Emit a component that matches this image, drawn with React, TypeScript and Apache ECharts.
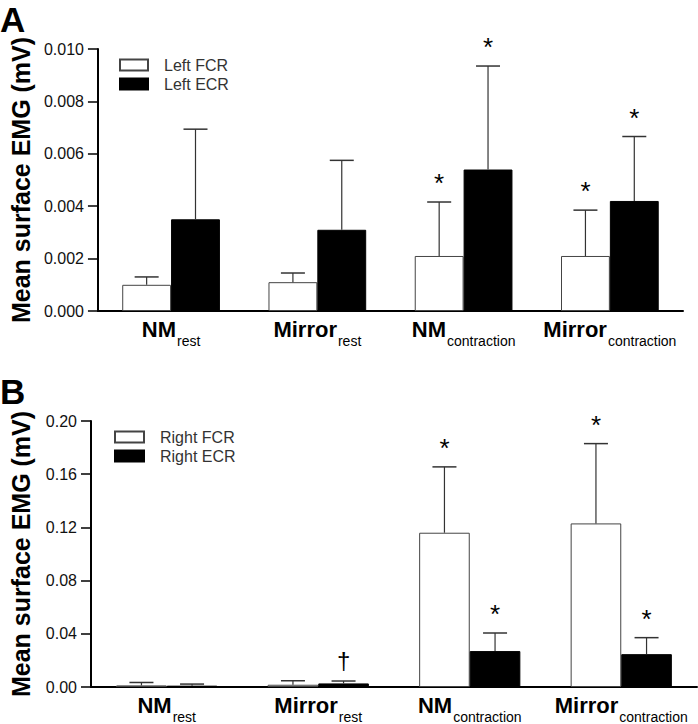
import React, { useEffect, useRef } from "react";
import * as echarts from "echarts";

const FONT = "'Liberation Sans', Arial, sans-serif";

// categories
const catMain = ["NM", "Mirror", "NM", "Mirror"];
const catSub = ["rest", "rest", "contraction", "contraction"];
const categories = catMain.map((m, i) => m + "_" + catSub[i]);

// Panel A (left forearm)
const leftFCR = [0.001, 0.0011, 0.0021, 0.0021];
const leftFCRsd = [0.0003, 0.00035, 0.00206, 0.00175];
const leftFCRmark = ["", "", "*", "*"];
const leftECR = [0.0035, 0.0031, 0.0054, 0.0042];
const leftECRsd = [0.00344, 0.00265, 0.00395, 0.00246];
const leftECRmark = ["", "", "*", "*"];
const yTicksA = [0, 0.002, 0.004, 0.006, 0.008, 0.01];

// Panel B (right forearm)
const rightFCR = [0.0012, 0.0017, 0.116, 0.123];
const rightFCRsd = [0.0022, 0.003, 0.0495, 0.06];
const rightFCRmark = ["", "", "*", "*"];
const rightECR = [0.001, 0.0027, 0.027, 0.0247];
const rightECRsd = [0.0012, 0.0018, 0.0136, 0.0124];
const rightECRmark = ["", "\u2020", "*", "*"];
const yTicksB = [0, 0.04, 0.08, 0.12, 0.16, 0.2];

const BAR_FRAC = 0.334;

function errSeries(name: string, axisIdx: number, means: number[], sds: number[], marks: string[], side: number) {
  return {
    type: "custom",
    name: name + "_err",
    xAxisIndex: axisIdx,
    yAxisIndex: axisIdx,
    z: 5,
    silent: true,
    data: means.map((m, i) => [i, m, sds[i], side]),
    encode: { x: 0, y: 1 },
    renderItem: (params: any, api: any) => {
      const cat = api.value(0);
      const mean = api.value(1);
      const sd = api.value(2);
      const sd2 = api.value(3);
      const band = api.size([1, 0])[0];
      const bw = band * BAR_FRAC;
      const base = api.coord([cat, mean]);
      const top = api.coord([cat, mean + sd]);
      const x = base[0] + (sd2 * bw) / 2;
      const mark = marks[params.dataIndex];
      const children: any[] = [
        {
          type: "line",
          shape: { x1: x, y1: base[1], x2: x, y2: top[1] },
          style: { stroke: "#333", lineWidth: 1.2 },
        },
        {
          type: "line",
          shape: { x1: x - 12, y1: top[1], x2: x + 12, y2: top[1] },
          style: { stroke: "#333", lineWidth: 1.5 },
        },
      ];
      if (mark) {
        const isStar = mark === "*";
        children.push({
          type: "text",
          x: x,
          y: top[1] - (isStar ? 19 : 21),
          style: {
            text: mark,
            fontSize: isStar ? 26 : 24,
            fontFamily: FONT,
            fill: "#000",
            align: "center",
            verticalAlign: "middle",
          },
        });
      }
      return { type: "group", children };
    },
  };
}

function barSeries(name: string, axisIdx: number, data: number[], fill: boolean) {
  return {
    type: "bar",
    name,
    xAxisIndex: axisIdx,
    yAxisIndex: axisIdx,
    data,
    barWidth: (BAR_FRAC * 100).toFixed(1) + "%",
    barGap: "0%",
    itemStyle: fill
      ? { color: "#000", borderColor: "#000", borderWidth: 1 }
      : { color: "#fff", borderColor: "#444", borderWidth: 1 },
  };
}

function catAxis(gridIndex: number) {
  return {
    type: "category",
    gridIndex,
    data: categories,
    axisTick: { show: false },
    axisLine: { lineStyle: { color: "#000", width: 2 } },
    axisLabel: {
      margin: 7,
      interval: 0,
      formatter: (v: string) => {
        const [m, s] = v.split("_");
        return "{m|" + m + "}{s|" + s + "}";
      },
      rich: {
        m: { fontSize: 22, fontWeight: "bold", fontFamily: FONT, color: "#000", lineHeight: 22, verticalAlign: "top" },
        s: { fontSize: 14, fontFamily: FONT, color: "#000", lineHeight: 14, verticalAlign: "top", padding: [16, 0, 0, 1] },
      },
    },
  };
}

function valAxis(gridIndex: number, ticks: number[], digits: number, nameGap: number) {
  return {
    type: "value",
    gridIndex,
    min: ticks[0],
    max: ticks[ticks.length - 1],
    interval: ticks[1] - ticks[0],
    name: "Mean surface EMG (mV)",
    nameLocation: "middle",
    nameGap,
    nameTextStyle: { fontSize: 25, fontWeight: "bold", fontFamily: FONT, color: "#000" },
    splitLine: { show: false },
    axisLine: { show: true, lineStyle: { color: "#000", width: 2 } },
    axisTick: { show: true, length: 10, lineStyle: { color: "#000", width: 1.5 } },
    axisLabel: {
      margin: 14,
      fontSize: 16,
      fontFamily: FONT,
      color: "#111",
      formatter: (v: number) => v.toFixed(digits),
    },
  };
}

export default function App() {
  const ref = useRef<HTMLDivElement>(null);
  useEffect(() => {
    if (!ref.current) return;
    const chart = echarts.init(ref.current, null, { renderer: "svg" });
    const legendText = { fontSize: 16, fontFamily: FONT, color: "#333", padding: [0, 0, 0, 11] };
    chart.setOption({
      animation: false,
      backgroundColor: "#fff",
      grid: [
        { left: 85, top: 49, width: 598, height: 262 },
        { left: 80, top: 421, width: 617, height: 268 },
      ],
      legend: [
        {
          data: ["Left FCR", "Left ECR"],
          orient: "vertical",
          left: 119,
          top: 57,
          padding: 0,
          icon: "rect",
          itemWidth: 28,
          itemHeight: 11,
          itemGap: 3,
          textStyle: legendText,
          selectedMode: false,
        },
        {
          data: ["Right FCR", "Right ECR"],
          orient: "vertical",
          left: 114,
          top: 429,
          padding: 0,
          icon: "rect",
          itemWidth: 29,
          itemHeight: 11,
          itemGap: 3,
          textStyle: legendText,
          selectedMode: false,
        },
      ],
      xAxis: [catAxis(0), catAxis(1)],
      yAxis: [valAxis(0, yTicksA, 3, 64), valAxis(1, yTicksB, 2, 58)],
      graphic: [
        { type: "text", left: 0, top: 2, style: { text: "A", fontSize: 35, fontWeight: "bold", fontFamily: FONT, fill: "#000" } },
        { type: "text", left: 0, top: 374, style: { text: "B", fontSize: 35, fontWeight: "bold", fontFamily: FONT, fill: "#000" } },
      ],
      series: [
        barSeries("Left FCR", 0, leftFCR, false),
        barSeries("Left ECR", 0, leftECR, true),
        errSeries("Left FCR", 0, leftFCR, leftFCRsd, leftFCRmark, -1),
        errSeries("Left ECR", 0, leftECR, leftECRsd, leftECRmark, 1),
        barSeries("Right FCR", 1, rightFCR, false),
        barSeries("Right ECR", 1, rightECR, true),
        errSeries("Right FCR", 1, rightFCR, rightFCRsd, rightFCRmark, -1),
        errSeries("Right ECR", 1, rightECR, rightECRsd, rightECRmark, 1),
      ],
    });
    return () => chart.dispose();
  }, []);
  return (
    <div
      ref={ref}
      style={{ position: "absolute", left: 0, top: 0, width: 698, height: 724, background: "#fff" }}
    />
  );
}
